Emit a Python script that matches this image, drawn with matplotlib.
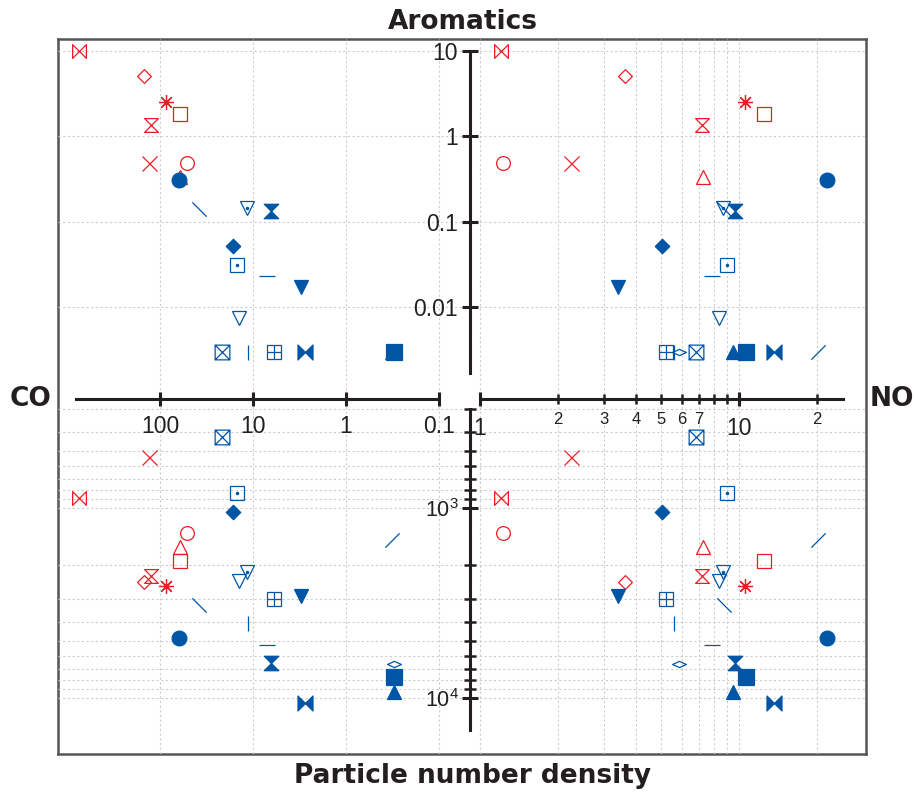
"""Four-quadrant chart: CO / NO against aromatics and particle number density."""

import matplotlib
matplotlib.use("Agg")
import matplotlib.pyplot as plt
from matplotlib.path import Path
from matplotlib.ticker import FixedLocator, FixedFormatter, NullLocator

plt.rcParams["font.family"] = ["Liberation Sans", "DejaVu Sans"]
plt.rcParams["mathtext.fontset"] = "custom"
plt.rcParams["mathtext.rm"] = "Liberation Sans"

# ---- data (one entry per sample) ----
co = [743, 149, 87, 61, 124, 131, 51.6, 61,
      62, 38.1, 11.7, 6.4, 16.3, 15.0, 7.0, 3.05, 14.0,
      21.7, 11.2, 5.94, 2.76, 0.303, 0.303, 0.303, 0.32]
no = [1.205, 3.63, 10.55, 12.5, 7.2, 2.25, 1.23, 7.23,
      21.9, 8.73, 8.70, 9.66, 5.03, 9.02, 7.87, 3.40, 8.35,
      6.82, 5.61, 5.23, 13.7, 10.6, 9.51, 5.88, 20.1]
aromatics = [10, 5.09, 2.54, 1.81, 1.36, 0.483, 0.483, 0.336,
             0.307, 0.139, 0.143, 0.133, 0.0518, 0.0308, 0.0231, 0.0171, 0.00748,
             0.003, 0.003, 0.003, 0.003, 0.003, 0.003, 0.003, 0.003]
pnd = [889, 2450, 2570, 1900, 2270, 541, 1359, 1611,
       4820, 3252, 2163, 6515, 1050, 837, 5230, 2894, 2421,
       422, 4017, 3028, 10590, 7747, 9330, 6590, 1468]

co_ticks = [100, 10, 1, 0.1]
co_labels = ["100", "10", "1", "0.1"]
no_major = [1, 10]
no_major_labels = ["1", "10"]
no_minor = [2, 3, 4, 5, 6, 7, 8, 9, 20]
no_minor_labels = ["2", "3", "4", "5", "6", "7", "", "", "2"]
aro_ticks = [10, 1, 0.1, 0.01]
aro_labels = ["10", "1", "0.1", "0.01"]
pnd_major = [1e3, 1e4]
pnd_major_labels = [r"$\mathregular{10^3}$", r"$\mathregular{10^4}$"]
pnd_minor = [300, 400, 500, 600, 700, 800, 900,
             2000, 3000, 4000, 5000, 6000, 7000, 8000, 9000]

# ---- styles ----
RED = "#ed1c24"
BLUE = "#0055a5"
INK = "#231f20"
GRID = "#cdcdcd"

M, L, C = Path.MOVETO, Path.LINETO, Path.CLOSEPOLY
sq = [(-1, -1), (1, -1), (1, 1), (-1, 1), (-1, -1)]
bowtie = Path([(-1, -1), (-1, 1), (1, -1), (1, 1), (-1, -1)], [M, L, L, L, C])
hourglass = Path([(-1, 1), (1, 1), (-1, -1), (1, -1), (-1, 1)], [M, L, L, L, C])
diamond = Path([(0, 1), (1, 0), (0, -1), (-1, 0), (0, 1)], [M, L, L, L, C])
flat_diamond = Path([(-1, 0), (0, 0.45), (1, 0), (0, -0.45), (-1, 0)], [M, L, L, L, C])
sq_cross = Path(sq + [(-1, -1), (1, 1), (-1, 1), (1, -1)], [M, L, L, L, C, M, L, M, L])
sq_plus = Path(sq + [(0, -1), (0, 1), (-1, 0), (1, 0)], [M, L, L, L, C, M, L, M, L])
backslash = Path([(-1, 1), (1, -1)], [M, L])
slash = Path([(-1, -1), (1, 1)], [M, L])

markers = [bowtie, diamond, (8, 2, 0), "s", hourglass, "x", "o", "^",
           "o", backslash, "v", hourglass, diamond, "s", "_", "v", "v",
           sq_cross, "|", sq_plus, bowtie, "s", "^", flat_diamond, slash]
colors = [RED] * 8 + [BLUE] * 17
filled = [False] * 8 + [True, False, False, True, True, False, False, True, False,
                        False, False, False, True, True, True, False, False]
dotted = [False] * 8 + [False, False, True, False, False, True, False, False, False,
                        False, False, False, False, False, False, False, False]
sizes = [9.9, 9.9, 10.8, 9.9, 9.9, 10.8, 9.9, 9.9,
         10.6, 10.3, 9.7, 10.4, 10.4, 10.6, 11.5, 10.4, 9.9,
         10.6, 10.8, 10.4, 10.8, 11.0, 9.6, 10.0, 10.3]

W, H = 914, 791
LEFT, RIGHT, TOP, BOTTOM = 58, 866, 39, 754
XMID, YMID = 470, 399


def box(x0, y0, x1, y1):
    return [x0 / W, 1 - y1 / H, (x1 - x0) / W, (y1 - y0) / H]


fig = plt.figure(figsize=(W / 100, H / 100), dpi=100)

frame = fig.add_axes(box(LEFT, TOP, RIGHT, BOTTOM))
frame.set_xticks([])
frame.set_yticks([])
for s in frame.spines.values():
    s.set_color("#555555")
    s.set_linewidth(1.8)

ax_bl = fig.add_axes(box(LEFT, YMID, XMID, BOTTOM))
ax_br = fig.add_axes(box(XMID, YMID, RIGHT, BOTTOM))
ax_tl = fig.add_axes(box(LEFT, TOP, XMID, YMID))
ax_tr = fig.add_axes(box(XMID, TOP, RIGHT, YMID))

co_lim = (1250, 0.0464)
no_lim = (0.915, 30.9)
aro_lim = (8.34e-4, 13.8)
pnd_lim = (19710, 266.7)

grid_kw = dict(color=GRID, linestyle=(0, (2, 2.2)), linewidth=0.8)

for ax, xl, yl in [(ax_tl, co_lim, aro_lim), (ax_tr, no_lim, aro_lim),
                   (ax_bl, co_lim, pnd_lim), (ax_br, no_lim, pnd_lim)]:
    ax.set_xscale("log")
    ax.set_yscale("log")
    ax.set_xlim(xl)
    ax.set_ylim(yl)
    ax.patch.set_visible(False)
    for s in ax.spines.values():
        s.set_visible(False)
    ax.tick_params(which="both", length=0, labelbottom=False, labelleft=False,
                   colors=INK)

# x locators: CO on the left, NO on the right
for ax in (ax_tl, ax_bl):
    ax.xaxis.set_major_locator(FixedLocator(co_ticks))
    ax.xaxis.set_major_formatter(FixedFormatter(co_labels))
    ax.xaxis.set_minor_locator(NullLocator())
    ax.grid(True, axis="x", which="major", **grid_kw)
for ax in (ax_tr, ax_br):
    ax.xaxis.set_major_locator(FixedLocator(no_major))
    ax.xaxis.set_major_formatter(FixedFormatter(no_major_labels))
    ax.xaxis.set_minor_locator(FixedLocator(no_minor))
    ax.xaxis.set_minor_formatter(FixedFormatter(no_minor_labels))
    ax.grid(True, axis="x", which="both", **grid_kw)
# y locators: aromatics on top, particle number density below
for ax in (ax_tl, ax_tr):
    ax.yaxis.set_major_locator(FixedLocator(aro_ticks))
    ax.yaxis.set_major_formatter(FixedFormatter(aro_labels))
    ax.yaxis.set_minor_locator(NullLocator())
    ax.grid(True, axis="y", which="major", **grid_kw)
for ax in (ax_bl, ax_br):
    ax.yaxis.set_major_locator(FixedLocator(pnd_major))
    ax.yaxis.set_major_formatter(FixedFormatter(pnd_major_labels))
    ax.yaxis.set_minor_locator(FixedLocator(pnd_minor))
    ax.yaxis.set_minor_formatter(FixedFormatter([""] * len(pnd_minor)))
    ax.grid(True, axis="y", which="both", **grid_kw)

# CO axis line
sp = ax_tl.spines["bottom"]
sp.set_visible(True)
sp.set_bounds(0.1, 800)
sp.set_linewidth(2.2)
sp.set_color(INK)
ax_tl.tick_params(axis="x", which="major", direction="inout", length=10, width=2.2,
                  labelbottom=True, labelsize=16.5, pad=6.5)

# NO axis line
sp = ax_tr.spines["bottom"]
sp.set_visible(True)
sp.set_bounds(1, 25.2)
sp.set_linewidth(2.2)
sp.set_color(INK)
ax_tr.tick_params(axis="x", which="major", direction="inout", length=10, width=2.2,
                  labelbottom=True, labelsize=16.5, pad=8)
ax_tr.tick_params(axis="x", which="minor", direction="inout", length=7, width=1.8,
                  labelbottom=True, labelsize=12, pad=5.5)

# Aromatics axis line
sp = ax_tr.spines["left"]
sp.set_visible(True)
sp.set_bounds(0.00169, 10)
sp.set_linewidth(2.2)
sp.set_color(INK)
ax_tr.tick_params(axis="y", which="major", direction="inout", length=11.5, width=2.2,
                  labelleft=True, labelsize=16.5, pad=3)

# Particle number density axis line
sp = ax_br.spines["left"]
sp.set_visible(True)
sp.set_bounds(300, 14740)
sp.set_linewidth(2.2)
sp.set_color(INK)
ax_br.tick_params(axis="y", which="major", direction="inout", length=11.5, width=2.2,
                  labelleft=True, labelsize=15.5, pad=2)
ax_br.tick_params(axis="y", which="minor", direction="inout", length=8, width=1.8)

# markers
quads = [(ax_tl, co, aromatics), (ax_tr, no, aromatics),
         (ax_bl, co, pnd), (ax_br, no, pnd)]
for ax, xs, ys in quads:
    for i in range(len(co)):
        face = colors[i] if filled[i] else "none"
        ax.plot(xs[i], ys[i], linestyle="none", marker=markers[i], ms=sizes[i],
                mec=colors[i], mfc=face, mew=0.9, clip_on=False, zorder=3)
        if dotted[i]:
            ax.plot(xs[i], ys[i], linestyle="none", marker="o", ms=1.5,
                    color=colors[i], clip_on=False, zorder=3)

title_kw = dict(family="DejaVu Sans", weight="bold", size=19, color=INK,
                ha="center", va="center")
fig.text(463 / W, 1 - 22 / H, "Aromatics", **title_kw)
fig.text(31 / W, 1 - 399 / H, "CO", **title_kw)
fig.text(892 / W, 1 - 399 / H, "NO", **title_kw)
fig.text(473 / W, 1 - 776 / H, "Particle number density", **title_kw)

fig.savefig("out.png", dpi=100)
